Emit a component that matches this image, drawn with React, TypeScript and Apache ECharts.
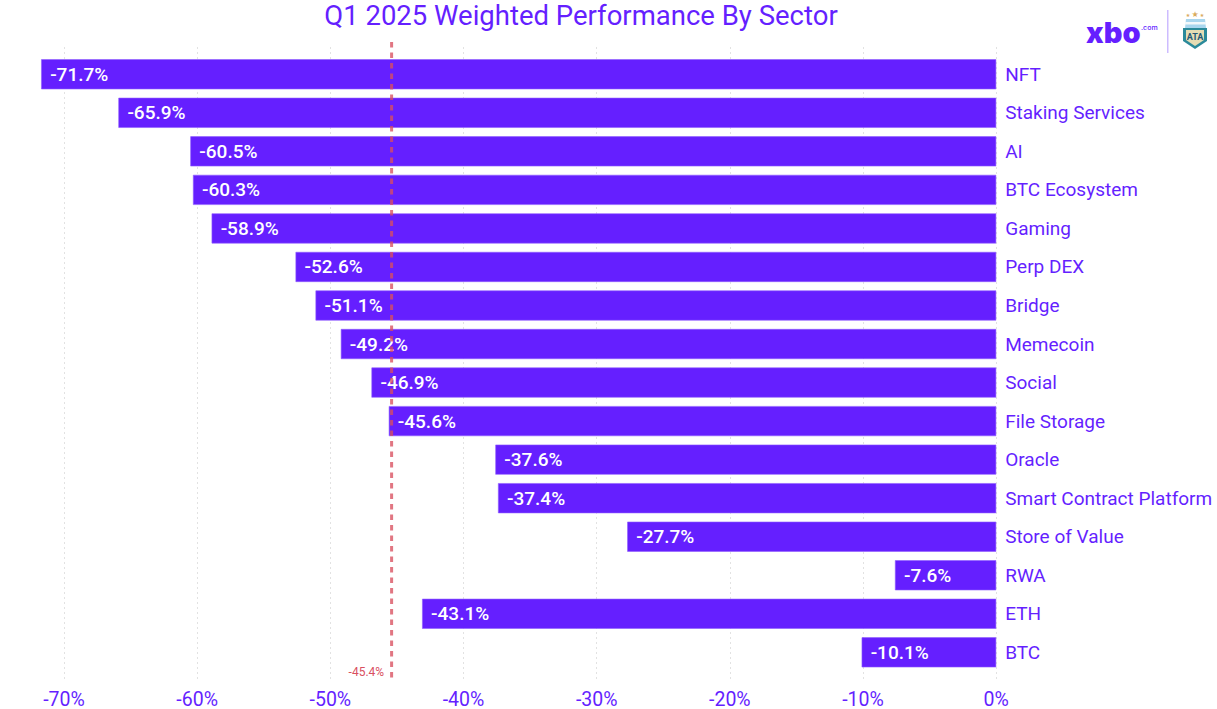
import React, { useEffect, useRef } from "react";
import * as echarts from "echarts";

const categories = ["NFT","Staking Services","AI","BTC Ecosystem","Gaming","Perp DEX","Bridge","Memecoin","Social","File Storage","Oracle","Smart Contract Platform","Store of Value","RWA","ETH","BTC"];
const values = [-71.7,-65.9,-60.5,-60.3,-58.9,-52.6,-51.1,-49.2,-46.9,-45.6,-37.6,-37.4,-27.7,-7.6,-43.1,-10.1];
const average = -45.4;
const titleText = "Q1 2025 Weighted Performance By Sector";
const PURPLE = "#651fff";
const FONT = "Roboto";

export default function App() {
  const ref = useRef<HTMLDivElement>(null);
  useEffect(() => {
    const chart = echarts.init(ref.current!, undefined, { renderer: "svg" });
    const right = 220.8;
    const tickScale = { type: "value", min: -70, max: 0, interval: 10 };
    chart.setOption({
      animation: false,
      backgroundColor: "#fff",
      title: { text: titleText, left: 581, top: 1, padding: 0, textAlign: "center", textStyle: { color: PURPLE, fontFamily: FONT, fontSize: 27.5, fontWeight: 400, lineHeight: 28 } },
      grid: [
        { left: 10.5, right, top: 55, height: 616.6 },
        { left: 64, right, top: 47, height: 636 },
        { left: 64, right, top: 42, height: 636 },
      ],
      xAxis: [
        { type: "value", min: -74, max: 0, gridIndex: 0, show: false },
        { ...tickScale, gridIndex: 1, axisLine: { show: false }, axisTick: { show: false },
          axisLabel: { color: PURPLE, fontFamily: FONT, fontSize: 19.5, margin: 9, formatter: (v: number) => v + "%" },
          splitLine: { show: true, lineStyle: { color: "#e2e2e2", type: [2, 3], width: 1 } } },
        { ...tickScale, gridIndex: 2, show: false },
      ],
      yAxis: [
        { type: "category", gridIndex: 0, data: categories, inverse: true, position: "right",
          axisLine: { show: false }, axisTick: { show: false }, splitLine: { show: false },
          axisLabel: { color: PURPLE, fontFamily: FONT, fontSize: 19, margin: 9 } },
        { type: "value", gridIndex: 1, min: 0, max: 1, show: false, splitLine: { show: false } },
        { type: "value", gridIndex: 2, min: 0, max: 1, show: false, splitLine: { show: false } },
      ],
      series: [
        { type: "bar", xAxisIndex: 0, yAxisIndex: 0, data: values, barCategoryGap: "22%",
          itemStyle: { color: PURPLE, borderColor: "#8f5cff", borderWidth: 0.6 },
          label: { show: true, position: "insideLeft", distance: 9, color: "#fff", fontFamily: FONT, fontWeight: 500, fontSize: 19, formatter: (p: any) => p.value.toFixed(1) + "%" } },
        { type: "line", xAxisIndex: 2, yAxisIndex: 2, data: [[average, 1], [average, 0]], symbol: "none", z: 5,
          lineStyle: { color: "#d9505f", width: 3, type: [5.5, 5], opacity: 0.78 },
          endLabel: { show: true, distance: 8, offset: [-51, -6], color: "#d9505f", fontFamily: FONT, fontSize: 12, formatter: () => average + "%" } },
      ],
      graphic: [
        { type: "text", x: 1086, y: 18, style: { text: "xbo", fill: PURPLE, font: "900 29px Inter" } },
        { type: "text", x: 1141, y: 24, style: { text: ".com", fill: PURPLE, font: "500 7px Inter" } },
        { type: "rect", shape: { x: 1167, y: 10, width: 1.5, height: 43 }, style: { fill: "#cdbcff" } },
        { type: "polygon", shape: { points: [[1186, 19], [1205, 19], [1206, 28], [1185, 28]] }, style: { fill: "#a9d6ee" } },
        { type: "rect", shape: { x: 1185, y: 22, width: 21, height: 2.5 }, style: { fill: "#f3f8fb" } },
        { type: "polygon", shape: { points: [[1183, 28], [1207, 28], [1207, 41], [1195, 49], [1183, 41]] }, style: { fill: "#2b8a9a" } },
        { type: "polygon", shape: { points: [[1186, 30], [1204, 30], [1204, 40], [1195, 46], [1186, 40]] }, style: { fill: "#e6ddb4" } },
        { type: "text", x: 1195, y: 37, style: { text: "ATA", fill: "#245a78", font: "700 9px Roboto", align: "center", verticalAlign: "middle" } },
        { type: "text", x: 1195, y: 14, style: { text: "★", fill: "#d9ab5c", font: "8px 'DejaVu Sans'", align: "center", verticalAlign: "middle" } },
        { type: "text", x: 1188, y: 15, style: { text: "★", fill: "#d9ab5c", font: "5px 'DejaVu Sans'", align: "center", verticalAlign: "middle" } },
        { type: "text", x: 1202, y: 15, style: { text: "★", fill: "#d9ab5c", font: "5px 'DejaVu Sans'", align: "center", verticalAlign: "middle" } },
      ],
    });
    return () => chart.dispose();
  }, []);
  return <div ref={ref} style={{ position: "absolute", left: 0, top: 0, width: 1217, height: 709 }} />;
}
